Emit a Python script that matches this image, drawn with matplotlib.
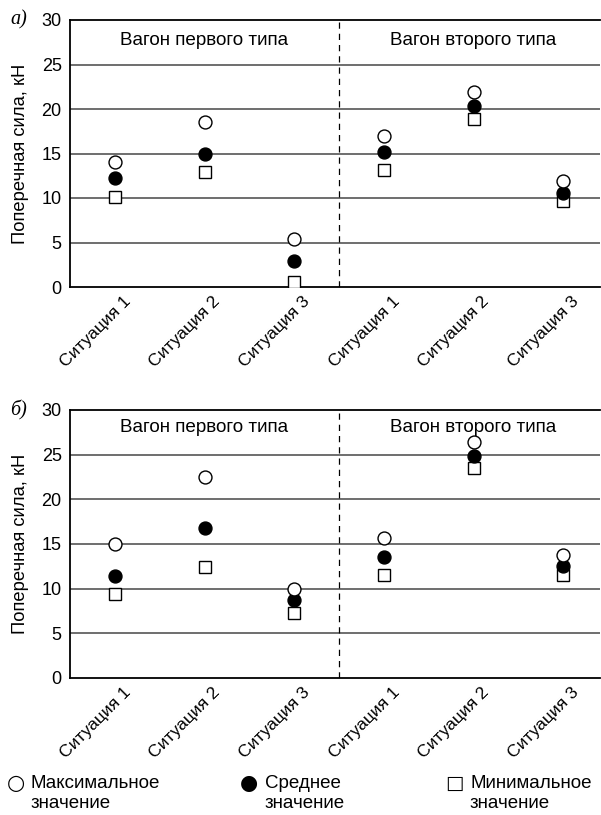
import matplotlib
matplotlib.use("Agg")
import matplotlib.pyplot as plt
from matplotlib.transforms import ScaledTranslation

plt.rcParams['font.family'] = ['Liberation Sans', 'DejaVu Sans']

categories = ["Ситуация 1", "Ситуация 2", "Ситуация 3",
              "Ситуация 1", "Ситуация 2", "Ситуация 3"]
groups = ["Вагон первого типа", "Вагон второго типа"]
yticks = [0, 5, 10, 15, 20, 25, 30]

# panel а)
a_max = [14.0, 18.5, 5.4, 17.0, 21.9, 11.9]
a_mean = [12.2, 14.9, 2.9, 15.2, 20.3, 10.6]
a_min = [10.1, 12.9, 0.6, 13.2, 18.9, 9.7]
# panel б)
b_max = [15.0, 22.5, 10.0, 15.7, 26.4, 13.8]
b_mean = [11.4, 16.8, 8.7, 13.5, 24.9, 12.5]
b_min = [9.4, 12.4, 7.3, 11.5, 23.5, 11.5]

legend_symbols = ["○", "●", "□"]
legend_line1 = ["Максимальное", "Среднее", "Минимальное"]
legend_line2 = ["значение", "значение", "значение"]

W, H = 601, 815
fig = plt.figure(figsize=(W / 100, H / 100), dpi=100)


def panel(rect, vmax, vmean, vmin, letter, title_y):
    ax = fig.add_axes(rect)
    x = list(range(len(categories)))
    ax.set_xlim(-0.5, 5.41)
    ax.set_ylim(0, 30)
    for v in yticks[1:-1]:
        ax.axhline(v, color='#555555', lw=1.2, zorder=1)
    ax.axvline(2.5, color='black', lw=0.9, ls=(0, (5, 4)), zorder=1)
    ax.plot(x, vmin, ls='none', marker='s', ms=9, mfc='white', mec='black', mew=1.0, zorder=3)
    ax.plot(x, vmean, ls='none', marker='o', ms=9.3, mfc='black', mec='black', mew=1.0, zorder=4)
    ax.plot(x, vmax, ls='none', marker='o', ms=9.3, mfc='white', mec='black', mew=1.0, zorder=5)
    ax.spines['right'].set_visible(False)
    for sp in ['left', 'top', 'bottom']:
        ax.spines[sp].set_linewidth(1.3)
    ax.set_yticks(yticks)
    ax.set_xticks(x)
    ax.set_xticklabels([])
    ax.tick_params(axis='both', length=0, labelsize=13)
    ax.tick_params(axis='y', pad=6)
    tr = ax.get_xaxis_transform() + ScaledTranslation(8 / 100, -7 / 100, fig.dpi_scale_trans)
    for xi, lab in zip(x, categories):
        ax.text(xi, 0, lab, transform=tr, rotation=45, ha='right', va='top',
                rotation_mode='anchor', fontsize=12.6)
    ax.set_ylabel("Поперечная сила, кН", fontsize=13.2, labelpad=9)
    ax.text(1, title_y, groups[0], ha='center', va='center', fontsize=13.6)
    ax.text(4, title_y, groups[1], ha='center', va='center', fontsize=13.6)
    ax.text(-0.097, 1.0, letter, transform=ax.transAxes, ha='center', va='center',
            fontsize=14.5, family='Liberation Serif', style='italic')
    return ax


panel([70 / W, 1 - 287 / H, 530 / W, 267 / H], a_max, a_mean, a_min, "а)", 27.75)
panel([70 / W, 1 - 678 / H, 530 / W, 268 / H], b_max, b_mean, b_min, "б)", 28.0)

sym_x = [16, 249, 454]
txt_x = [31, 265, 470]
sym_size = [15, 15, 14]
for sx, tx, ss, s, l1, l2 in zip(sym_x, txt_x, sym_size, legend_symbols, legend_line1, legend_line2):
    fig.text(sx / W, 1 - 783 / H, s, ha='center', va='center', fontsize=ss,
             family=['DejaVu Sans'])
    fig.text(tx / W, 1 - 783 / H, l1, ha='left', va='center', fontsize=13.5)
    fig.text(tx / W, 1 - 804 / H, l2, ha='left', va='center', fontsize=13.5)

fig.savefig("out.png", dpi=100)
